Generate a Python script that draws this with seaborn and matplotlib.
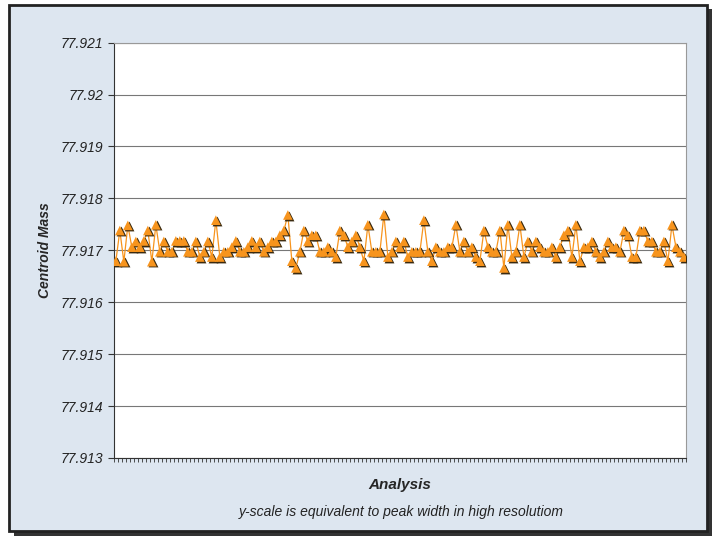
import numpy as np
import matplotlib
matplotlib.use("Agg")
import matplotlib.pyplot as plt
import seaborn as sns
import pandas as pd
from matplotlib.patches import Rectangle

# centroid mass per analysis
mass = [
    77.91679, 77.91738, 77.91678, 77.91748, 77.91706, 77.91717, 77.91706, 77.91718, 77.91738, 77.91678,
    77.91749, 77.91697, 77.91717, 77.91697, 77.91697, 77.91718, 77.91718, 77.91718, 77.91697, 77.91697,
    77.91717, 77.91687, 77.91697, 77.91717, 77.91687, 77.91758, 77.91687, 77.91697, 77.91697, 77.91706,
    77.91718, 77.91697, 77.91697, 77.91706, 77.91718, 77.91706, 77.91717, 77.91697, 77.91706, 77.91717,
    77.91717, 77.91729, 77.91738, 77.91768, 77.91679, 77.91666, 77.91697, 77.91738, 77.91717,
    77.91729, 77.91729, 77.91697, 77.91697, 77.91706, 77.91697, 77.91687, 77.91738, 77.91729, 77.91706,
    77.91717, 77.91729, 77.91706, 77.91679, 77.91749, 77.91697, 77.91697, 77.91697, 77.91769, 77.91687,
    77.91697, 77.91717, 77.91706, 77.91717, 77.91687, 77.91697, 77.91697, 77.91697, 77.91758, 77.91697,
    77.91679, 77.91706, 77.91697, 77.91697, 77.91706, 77.91706, 77.91749, 77.91697, 77.91717, 77.91697,
    77.91706, 77.91687, 77.91679, 77.91738, 77.91706, 77.91697, 77.91697,
    77.91738, 77.91666, 77.91749, 77.91687, 77.91697, 77.91749, 77.91687, 77.91717, 77.91697, 77.91717,
    77.91706, 77.91697, 77.91697, 77.91706, 77.91687, 77.91706, 77.91729, 77.91738, 77.91687, 77.91749,
    77.91679, 77.91706, 77.91706, 77.91717, 77.91697, 77.91687, 77.91697, 77.91717, 77.91706, 77.91706,
    77.91697, 77.91738, 77.91729, 77.91687, 77.91687, 77.91738, 77.91738, 77.91717, 77.91717, 77.91697,
    77.91697, 77.91717, 77.91679, 77.91749, 77.91706, 77.91697, 77.91687,
]
y_ticks = [77.913, 77.914, 77.915, 77.916, 77.917, 77.918, 77.919, 77.92, 77.921]
y_labels = ["77.913", "77.914", "77.915", "77.916", "77.917", "77.918", "77.919", "77.92", "77.921"]

df = pd.DataFrame({"analysis": np.arange(1, len(mass) + 1), "mass": mass})

sns.set_style("white")
plt.rcParams["font.family"] = ["Liberation Sans", "DejaVu Sans"]

fig = plt.figure(figsize=(7.16, 5.4), dpi=100)
fig.patch.set_facecolor("white")
# shadow + panel
fig.patches.append(Rectangle((0.02, 0.008), 0.975, 0.975, transform=fig.transFigure,
                             facecolor="#333333", edgecolor="none", zorder=-3))
fig.patches.append(Rectangle((0.012, 0.016), 0.975, 0.975, transform=fig.transFigure,
                             facecolor="#dde6f0", edgecolor="#222222", lw=2, zorder=-2))

ax = fig.add_axes([0.159, 0.152, 0.799, 0.769])
ax.set_facecolor("white")
ax.plot(df["analysis"], df["mass"], color="#f7941d", lw=0.9, zorder=2)
# marker shadow then marker
ax.scatter(df["analysis"] + 0.35, df["mass"] - 0.000012, marker="^", s=50,
           color="#3a2a10", zorder=3, linewidths=0)
sns.scatterplot(data=df, x="analysis", y="mass", ax=ax, marker="^", s=48,
                color="#f7941d", edgecolor="none", zorder=4)

ax.set_ylim(77.913, 77.921)
ax.set_xlim(0.5, len(mass) + 0.5)
ax.set_yticks(y_ticks)
ax.set_yticklabels(y_labels, fontsize=10, style="italic", color="#222222")
ax.set_xticks(np.arange(0.5, len(mass) + 1, 1))
ax.set_xticklabels([])
ax.tick_params(axis="x", direction="out", length=3, width=0.6, color="#333333", bottom=True)
ax.tick_params(axis="y", direction="out", length=4, width=0.8, color="#333333", left=True)
ax.grid(axis="y", color="#777777", lw=0.8)
ax.set_axisbelow(True)
for s in ["top", "right"]:
    ax.spines[s].set_color("#999999")
for s in ["left", "bottom"]:
    ax.spines[s].set_color("#333333")

ax.set_xlabel("Analysis", fontsize=11, fontweight="bold", style="italic", labelpad=8)
ax.set_ylabel("Centroid Mass", fontsize=10, fontweight="bold", style="italic", labelpad=6)
fig.text(0.56, 0.045, "y-scale is equivalent to peak width in high resolutiom",
         ha="center", fontsize=10, style="italic", color="#222222")

fig.savefig("out.png", dpi=100)
